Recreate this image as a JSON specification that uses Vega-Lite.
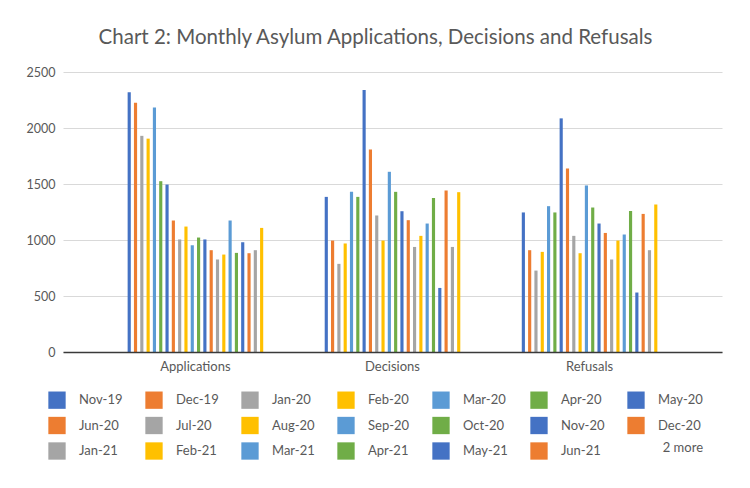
{
  "$schema": "https://vega.github.io/schema/vega-lite/v6.json",
  "width": 659,
  "height": 280,
  "autosize": {"type": "none"},
  "padding": {"left": 63, "top": 72, "right": 28, "bottom": 136},
  "background": "white",
  "title": {
    "text": "Chart 2: Monthly Asylum Applications, Decisions and Refusals",
    "font": "Lato",
    "fontSize": 20.5,
    "fontWeight": "normal",
    "color": "#595959",
    "anchor": "middle",
    "dx": -17,
    "offset": 18
  },
  "data": {
    "values": [
      {"cat": "Applications", "month": "Nov-19", "value": 2320},
      {"cat": "Applications", "month": "Dec-19", "value": 2225},
      {"cat": "Applications", "month": "Jan-20", "value": 1930},
      {"cat": "Applications", "month": "Feb-20", "value": 1905},
      {"cat": "Applications", "month": "Mar-20", "value": 2182},
      {"cat": "Applications", "month": "Apr-20", "value": 1525},
      {"cat": "Applications", "month": "May-20", "value": 1495},
      {"cat": "Applications", "month": "Jun-20", "value": 1174},
      {"cat": "Applications", "month": "Jul-20", "value": 1005},
      {"cat": "Applications", "month": "Aug-20", "value": 1120},
      {"cat": "Applications", "month": "Sep-20", "value": 953},
      {"cat": "Applications", "month": "Oct-20", "value": 1022},
      {"cat": "Applications", "month": "Nov-20", "value": 1005},
      {"cat": "Applications", "month": "Dec-20", "value": 909},
      {"cat": "Applications", "month": "Jan-21", "value": 826},
      {"cat": "Applications", "month": "Feb-21", "value": 870},
      {"cat": "Applications", "month": "Mar-21", "value": 1174},
      {"cat": "Applications", "month": "Apr-21", "value": 885},
      {"cat": "Applications", "month": "May-21", "value": 980},
      {"cat": "Applications", "month": "Jun-21", "value": 882},
      {"cat": "Applications", "month": "Jul-21", "value": 909},
      {"cat": "Applications", "month": "Aug-21", "value": 1108},
      {"cat": "Decisions", "month": "Nov-19", "value": 1385},
      {"cat": "Decisions", "month": "Dec-19", "value": 995},
      {"cat": "Decisions", "month": "Jan-20", "value": 787},
      {"cat": "Decisions", "month": "Feb-20", "value": 969},
      {"cat": "Decisions", "month": "Mar-20", "value": 1430},
      {"cat": "Decisions", "month": "Apr-20", "value": 1385},
      {"cat": "Decisions", "month": "May-20", "value": 2339},
      {"cat": "Decisions", "month": "Jun-20", "value": 1809},
      {"cat": "Decisions", "month": "Jul-20", "value": 1219},
      {"cat": "Decisions", "month": "Aug-20", "value": 995},
      {"cat": "Decisions", "month": "Sep-20", "value": 1609},
      {"cat": "Decisions", "month": "Oct-20", "value": 1430},
      {"cat": "Decisions", "month": "Nov-20", "value": 1257},
      {"cat": "Decisions", "month": "Dec-20", "value": 1177},
      {"cat": "Decisions", "month": "Jan-21", "value": 938},
      {"cat": "Decisions", "month": "Feb-21", "value": 1037},
      {"cat": "Decisions", "month": "Mar-21", "value": 1147},
      {"cat": "Decisions", "month": "Apr-21", "value": 1374},
      {"cat": "Decisions", "month": "May-21", "value": 572},
      {"cat": "Decisions", "month": "Jun-21", "value": 1442},
      {"cat": "Decisions", "month": "Jul-21", "value": 938},
      {"cat": "Decisions", "month": "Aug-21", "value": 1427},
      {"cat": "Refusals", "month": "Nov-19", "value": 1246},
      {"cat": "Refusals", "month": "Dec-19", "value": 909},
      {"cat": "Refusals", "month": "Jan-20", "value": 727},
      {"cat": "Refusals", "month": "Feb-20", "value": 894},
      {"cat": "Refusals", "month": "Mar-20", "value": 1302},
      {"cat": "Refusals", "month": "Apr-20", "value": 1246},
      {"cat": "Refusals", "month": "May-20", "value": 2086},
      {"cat": "Refusals", "month": "Jun-20", "value": 1639},
      {"cat": "Refusals", "month": "Jul-20", "value": 1037},
      {"cat": "Refusals", "month": "Aug-20", "value": 882},
      {"cat": "Refusals", "month": "Sep-20", "value": 1487},
      {"cat": "Refusals", "month": "Oct-20", "value": 1290},
      {"cat": "Refusals", "month": "Nov-20", "value": 1147},
      {"cat": "Refusals", "month": "Dec-20", "value": 1063},
      {"cat": "Refusals", "month": "Jan-21", "value": 826},
      {"cat": "Refusals", "month": "Feb-21", "value": 995},
      {"cat": "Refusals", "month": "Mar-21", "value": 1049},
      {"cat": "Refusals", "month": "Apr-21", "value": 1260},
      {"cat": "Refusals", "month": "May-21", "value": 531},
      {"cat": "Refusals", "month": "Jun-21", "value": 1233},
      {"cat": "Refusals", "month": "Jul-21", "value": 909},
      {"cat": "Refusals", "month": "Aug-21", "value": 1317}
    ]
  },
  "mark": {"type": "bar"},
  "encoding": {
    "x": {
      "field": "cat",
      "type": "nominal",
      "sort": ["Applications", "Decisions", "Refusals"],
      "scale": {"paddingInner": 0.296, "paddingOuter": 0.32},
      "axis": {
        "title": null,
        "labelAngle": 0,
        "labelFont": "Lato",
        "labelFontSize": 13,
        "labelColor": "#595959",
        "labelPadding": 8,
        "ticks": false,
        "domainColor": "#3a3a3a",
        "domainWidth": 1.5,
        "zindex": 1
      }
    },
    "xOffset": {
      "field": "month",
      "type": "nominal",
      "sort": ["Nov-19","Dec-19","Jan-20","Feb-20","Mar-20","Apr-20","May-20","Jun-20","Jul-20","Aug-20","Sep-20","Oct-20","Nov-20","Dec-20","Jan-21","Feb-21","Mar-21","Apr-21","May-21","Jun-21","Jul-21","Aug-21"],
      "scale": {"paddingInner": 0.5, "paddingOuter": 0.25}
    },
    "y": {
      "field": "value",
      "type": "quantitative",
      "scale": {"domain": [0, 2500], "nice": false},
      "axis": {
        "title": null,
        "values": [0, 500, 1000, 1500, 2000, 2500],
        "format": "d",
        "labelFont": "Lato",
        "labelFontSize": 12.5,
        "labelColor": "#595959",
        "labelPadding": 8,
        "ticks": false,
        "domain": false,
        "gridColor": "#d9d9d9",
        "gridWidth": 1
      }
    },
    "color": {
      "field": "month",
      "type": "nominal",
      "scale": {
        "domain": ["Nov-19","Dec-19","Jan-20","Feb-20","Mar-20","Apr-20","May-20","Jun-20","Jul-20","Aug-20","Sep-20","Oct-20","Nov-20","Dec-20","Jan-21","Feb-21","Mar-21","Apr-21","May-21","Jun-21","Jul-21","Aug-21"],
        "range": ["#4472c4","#ed7d31","#a5a5a5","#ffc000","#5b9bd5","#70ad47","#4472c4","#ed7d31","#a5a5a5","#ffc000","#5b9bd5","#70ad47","#4472c4","#ed7d31","#a5a5a5","#ffc000","#5b9bd5","#70ad47","#4472c4","#ed7d31","#a5a5a5","#ffc000"]
      },
      "legend": {
        "title": "2 more",
        "titleOrient": "bottom",
        "titleAnchor": "end",
        "titlePadding": -18,
        "titleFont": "Lato",
        "titleFontSize": 13,
        "titleFontWeight": "normal",
        "titleColor": "#595959",
        "orient": "none",
        "legendX": -15,
        "legendY": 319,
        "direction": "horizontal",
        "columns": 7,
        "values": ["Nov-19","Dec-19","Jan-20","Feb-20","Mar-20","Apr-20","May-20","Jun-20","Jul-20","Aug-20","Sep-20","Oct-20","Nov-20","Dec-20","Jan-21","Feb-21","Mar-21","Apr-21","May-21","Jun-21"],
        "symbolType": "square",
        "symbolSize": 300,
        "symbolStrokeWidth": 0,
        "symbolOpacity": 1,
        "labelFont": "Lato",
        "labelFontSize": 13,
        "labelColor": "#595959",
        "labelOffset": 13,
        "columnPadding": 22,
        "rowPadding": 7.5
      }
    }
  },
  "config": {
    "view": {"stroke": null}
  }
}
